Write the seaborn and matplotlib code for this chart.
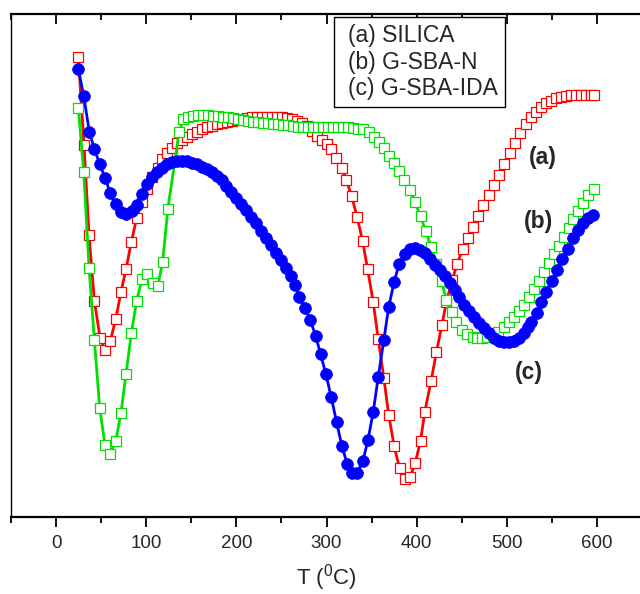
import matplotlib
matplotlib.use("Agg")
import matplotlib.pyplot as plt
import seaborn as sns
import pandas as pd
from matplotlib.ticker import MultipleLocator

# Temperature (°C) and DTA signal (arbitrary units) for the three samples
silica_T = [24.7, 31.0, 36.6, 42.5, 48.8, 54.3, 60.2, 66.2, 72.0, 77.6, 83.5, 89.4, 95.3,
            101.2, 106.8, 112.7, 117.2, 122.7, 128.3, 133.8, 139.4, 144.9, 150.4, 156.0,
            161.5, 167.1, 172.6, 178.2, 183.7, 189.2, 194.8, 200.3, 205.9, 211.4, 217.0,
            222.5, 228.0, 233.6, 239.1, 244.7, 250.2, 255.8, 261.3, 266.9, 272.4, 278.0,
            283.5, 289.0, 294.5, 300.0, 305.5, 311.0, 316.7, 322.0, 327.8, 334.0, 340.0,
            345.6, 351.8, 357.4, 363.6, 369.0, 375.0, 381.0, 387.0, 392.8, 398.4, 404.3,
            409.0, 416.0, 422.0, 428.0, 433.0, 439.4, 445.0, 451.0, 457.0, 462.7, 468.2,
            473.8, 480.0, 486.0, 491.5, 497.4, 503.3, 509.2, 515.0, 521.0, 526.6, 532.0,
            537.7, 543.0, 548.8, 554.3, 560.0, 565.4, 571.0, 576.5, 582.0, 587.6, 593.0, 597.0]
silica_S = [460, 372, 282, 216, 179, 167, 176, 198, 225, 248, 275, 299, 315,
            328, 340, 349, 358, 364, 369, 374, 377, 380, 383, 385,
            388, 390, 391, 393, 394, 395, 396, 397, 398, 399, 400,
            400, 400, 400, 400, 400, 400, 399, 398, 396, 394, 391,
            386, 381, 377, 373, 368, 359, 349, 337, 321, 300, 276,
            248, 215, 178, 139, 102, 71, 49, 38, 40, 54, 76,
            105, 136, 165, 192, 215, 237, 253, 268, 279, 290, 301,
            312, 322, 332, 342, 353, 364, 374, 384, 393, 400, 405,
            410, 414, 416, 419, 420, 421, 422, 422, 422, 422, 422, 422]

gsban_T = [24.7, 30.7, 36.6, 42.5, 48.4, 54.3, 60.2, 66.2, 72.0, 77.6, 83.5, 89.4, 95.3,
           100.8, 107.0, 112.8, 118.2, 124.0, 136.5, 141.3, 146.7, 152.2, 157.8, 163.3,
           168.8, 174.4, 179.9, 185.5, 191.0, 196.6, 202.1, 207.7, 213.2, 218.7, 224.3,
           229.8, 235.4, 240.9, 246.5, 252.0, 257.5, 263.1, 268.6, 274.2, 279.7, 285.3,
           290.8, 296.3, 301.9, 307.4, 313.0, 318.5, 324.1, 329.6, 335.1, 340.7, 347.0,
           352.5, 358.1, 364.0, 369.4, 374.7, 380.6, 386.0, 392.5, 398.0, 404.3, 410.0,
           416.0, 422.0, 427.6, 433.0, 438.7, 444.2, 449.8, 456.0, 462.0, 467.5, 473.0,
           478.6, 484.8, 490.4, 496.7, 502.6, 507.8, 513.6, 519.2, 524.5, 530.0, 535.5,
           541.0, 546.5, 552.0, 557.5, 563.0, 568.5, 574.0, 579.5, 585.0, 590.5, 596.5]
gsban_S = [409, 345, 249, 177, 109, 72, 63, 76, 104, 143, 184, 216, 238,
           243, 234, 231, 255, 308, 385, 398, 400, 401, 402, 402,
           402, 401, 401, 400, 400, 399, 398, 397, 396, 395, 395,
           394, 394, 393, 393, 392, 392, 391, 390, 390, 390, 390,
           390, 390, 390, 390, 390, 390, 390, 389, 388, 388, 385,
           380, 375, 369, 361, 354, 346, 337, 327, 315, 301, 286,
           270, 253, 236, 217, 205, 195, 187, 183, 180, 179, 179,
           180, 182, 185, 190, 195, 200, 206, 212, 220, 228, 236,
           245, 254, 263, 271, 280, 289, 298, 306, 314, 322, 328]

gsbaida_T = [24.7, 30.7, 36.9, 42.5, 48.4, 54.3, 60.2, 66.2, 72.1, 77.6, 83.9, 89.4, 95.3,
             101.2, 106.8, 111.6, 117.2, 122.7, 128.3, 133.8, 139.3, 144.9, 150.4, 156.0,
             161.5, 167.1, 172.6, 178.2, 183.7, 189.0, 194.5, 200.0, 205.5, 211.0, 216.5,
             222.0, 227.5, 233.0, 238.5, 244.0, 249.5, 255.0, 260.5, 265.5, 270.0, 276.0,
             282.0, 288.0, 293.4, 299.3, 305.2, 311.2, 317.0, 323.0, 328.0, 334.0, 340.4,
             346.0, 351.8, 357.4, 363.6, 369.0, 375.0, 380.6, 387.0, 392.5, 398.0, 403.5,
             409.0, 414.6, 420.0, 425.7, 431.0, 436.8, 442.0, 447.0, 452.7, 458.0, 463.8,
             469.3, 474.8, 480.4, 486.0, 491.5, 497.0, 502.5, 508.0, 513.6, 519.0, 523.0,
             527.4, 533.0, 538.5, 544.0, 550.0, 555.8, 561.7, 568.0, 573.5, 579.0, 584.7,
             590.0, 595.7]
gsbaida_S = [448, 421, 385, 368, 353, 339, 324, 313, 305, 303, 306, 312, 323,
             333, 340, 345, 349, 353, 355, 356, 356, 356, 354, 353,
             350, 348, 345, 341, 337, 331, 325, 319, 313, 307, 300,
             294, 286, 279, 272, 264, 257, 249, 241, 232, 220, 209,
             197, 181, 163, 143, 120, 95, 71, 53, 44, 44, 56,
             77, 105, 140, 177, 210, 235, 253, 263, 268, 269, 267,
             264, 258, 252, 247, 241, 234, 227, 220, 212, 206, 200,
             194, 189, 184, 179, 176, 175, 175, 176, 179, 184, 190,
             195, 204, 215, 225, 236, 247, 258, 268, 279, 287, 294,
             299, 302]

labels = ["(a) SILICA", "(b) G-SBA-N", "(c) G-SBA-IDA"]
curve_tags = ["(a)", "(b)", "(c)"]
tag_T = [540, 535, 525]
tag_S = [360, 296, 144]
xticks = [0, 100, 200, 300, 400, 500, 600]

sns.set_style("ticks")
plt.rcParams["font.family"] = ["Liberation Sans", "DejaVu Sans"]
plt.rcParams["mathtext.fontset"] = "custom"
plt.rcParams["mathtext.rm"] = "Liberation Sans"

fig = plt.figure(figsize=(6.4, 5.94), dpi=100)
ax = fig.add_axes([11 / 640, 77 / 594, 631 / 640, 503 / 594])

series = [
    (silica_T, silica_S, labels[0], "#ff0000", "s", "white"),
    (gsban_T, gsban_S, labels[1], "#00e000", "s", "white"),
    (gsbaida_T, gsbaida_S, labels[2], "#0000ff", "o", "#0000ff"),
]
for z, (T, S, lab, col, mk, fc) in enumerate(series):
    df = pd.DataFrame({"T": T, "S": S})
    sns.lineplot(data=df, x="T", y="S", ax=ax, estimator=None, sort=False,
                 color=col, linewidth=2.0, label=lab, zorder=2 + z,
                 marker=mk, markersize=7.5 if mk == "s" else 8.5,
                 markerfacecolor=fc, markeredgecolor=col,
                 markeredgewidth=0.9 if mk == "s" else 0.5)

ax.set_xlim(-50, 650)
ax.set_ylim(0, 503)
ax.set_xticks(xticks)
ax.xaxis.set_minor_locator(MultipleLocator(50))
ax.set_yticks([])
ax.set_ylabel("")
ax.set_xlabel(r"T ($\mathregular{^0}$C)", fontsize=16, labelpad=7)
ax.tick_params(axis="x", which="major", direction="out", length=7, width=1.3,
               labelsize=13.5, pad=6, top=True, color="black")
ax.tick_params(axis="x", which="minor", direction="out", length=4, width=1.3,
               top=True, color="black")
# ticks on the top spine point inward
for t in ax.xaxis.get_major_ticks() + ax.xaxis.get_minor_ticks():
    t.tick2line.set_marker(3)
ax.spines["left"].set_linewidth(1.0)
ax.spines["bottom"].set_linewidth(1.6)
ax.spines["top"].set_linewidth(1.6)
ax.spines["right"].set_linewidth(1.0)
for sp in ax.spines.values():
    sp.set_color("black")

leg = ax.legend(loc="upper left", bbox_to_anchor=((334 - 11) / 631, (517 - 17) / 503),
                fontsize=16.5, frameon=True, fancybox=False, framealpha=1,
                edgecolor="black", handlelength=0, handletextpad=0.3,
                labelspacing=0.14, borderpad=0.32, borderaxespad=0)
leg.get_frame().set_linewidth(1.0)
for h in leg.legend_handles:
    h.set_visible(False)

for tag, tx, ty in zip(curve_tags, tag_T, tag_S):
    ax.text(tx, ty, tag, fontsize=16.5, fontweight="bold", ha="center", va="center")

fig.savefig("out.png", dpi=100)
